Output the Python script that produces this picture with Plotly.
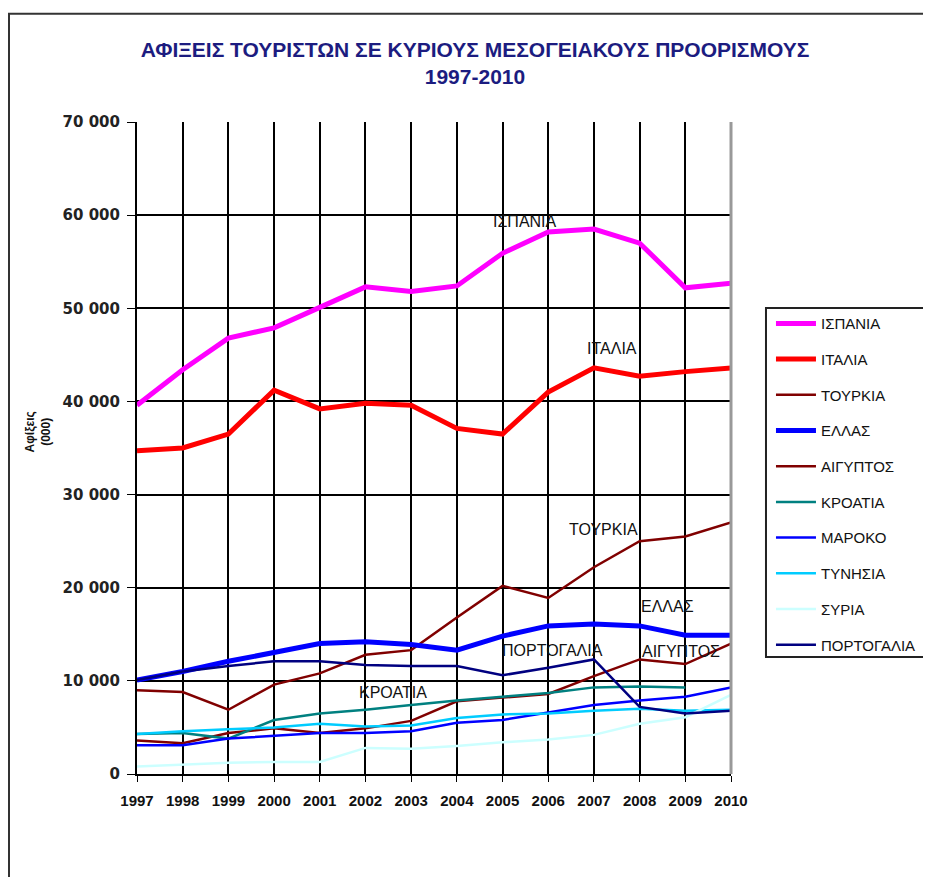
import plotly.graph_objects as go

years = list(range(1997, 2011))

spain    = [39600, 43400, 46800, 47900, 50100, 52300, 51800, 52400, 55900, 58200, 58500, 57000, 52200, 52700]
italy    = [34700, 35000, 36500, 41200, 39200, 39800, 39600, 37100, 36500, 41000, 43600, 42700, 43200, 43600]
turkey   = [9000, 8800, 6900, 9600, 10800, 12800, 13300, 16800, 20200, 18900, 22200, 25000, 25500, 27000]
greece   = [10100, 11000, 12100, 13000, 14000, 14200, 13900, 13300, 14800, 15900, 16100, 15900, 14900, 14900]
egypt    = [3600, 3300, 4400, 4900, 4400, 4900, 5700, 7800, 8200, 8600, 10500, 12300, 11800, 14000]
croatia  = [4300, 4400, 3800, 5800, 6500, 6900, 7400, 7900, 8300, 8700, 9300, 9400, 9300, None]
morocco  = [3100, 3100, 3800, 4100, 4400, 4400, 4600, 5500, 5800, 6600, 7400, 7900, 8300, 9300]
tunisia  = [4300, 4600, 4800, 5000, 5400, 5100, 5200, 6000, 6400, 6500, 6800, 7000, 6800, 6900]
syria    = [800, 1000, 1200, 1300, 1300, 2800, 2700, 3000, 3400, 3700, 4200, 5400, 6100, 8500]
portugal = [10100, 11000, 11600, 12100, 12100, 11700, 11600, 11600, 10600, 11400, 12300, 7200, 6500, 6800]

names = ["ΙΣΠΑΝΙΑ", "ΙΤΑΛΙΑ", "ΤΟΥΡΚΙΑ", "ΕΛΛΑΣ", "ΑΙΓΥΠΤΟΣ", "ΚΡΟΑΤΙΑ",
         "ΜΑΡΟΚΟ", "ΤΥΝΗΣΙΑ", "ΣΥΡΙΑ", "ΠΟΡΤΟΓΑΛΙΑ"]
series = [spain, italy, turkey, greece, egypt, croatia, morocco, tunisia, syria, portugal]
colors = ["#FF00FF", "#FF0000", "#800000", "#0000FF", "#800000", "#008080",
          "#0000FF", "#00CCFF", "#CCFFFF", "#000080"]
widths = [5, 5, 2.5, 5, 2.5, 2.5, 2.5, 2.5, 2.5, 2.5]

label_text = ["ΙΣΠΑΝΙΑ", "ΙΤΑΛΙΑ", "ΤΟΥΡΚΙΑ", "ΕΛΛΑΣ", "ΑΙΓΥΠΤΟΣ", "ΠΟΡΤΟΓΑΛΙΑ", "ΚΡΟΑΤΙΑ"]
label_x = [2005.5, 2007.4, 2007.2, 2008.6, 2008.9, 2006.1, 2002.6]
label_y = [59300, 45700, 26200, 18000, 13100, 13300, 8700]

ytick_vals = [0, 10000, 20000, 30000, 40000, 50000, 60000, 70000]
ytick_text = ["0", "10 000", "20 000", "30 000", "40 000", "50 000", "60 000", "70 000"]

FONT = "Liberation Sans, Arial, sans-serif"
YFONT = "DejaVu Sans, Verdana, sans-serif"

fig = go.Figure()
for i in range(len(names)):
    fig.add_trace(go.Scatter(
        x=years, y=series[i], name=names[i], mode="lines",
        line=dict(color=colors[i], width=widths[i]),
        legendgroup=names[i], legendrank=i + 1,
    ))

for t, x, y in zip(label_text, label_x, label_y):
    fig.add_annotation(x=x, y=y, text=t, showarrow=False, xref="x", yref="y",
                       font=dict(family=FONT, size=16, color="#111111"))

fig.add_annotation(xref="paper", yref="paper", x=-0.166, y=0.5245,
                   xanchor="center", yanchor="middle",
                   text="<b>Αφίξεις<br>(000)</b>",
                   showarrow=False, textangle=-90,
                   font=dict(family=FONT, size=12, color="#111111"))

# outer frame
fig.add_shape(type="rect", xref="paper", yref="paper",
              x0=-0.2155, y0=-0.2, x1=1.45, y1=1.166,
              line=dict(color="#333333", width=2), layer="below")
# legend box (runs off the right edge)
fig.add_shape(type="rect", xref="paper", yref="paper",
              x0=1.0589, y0=0.1794, x1=1.45, y1=0.7147,
              line=dict(color="#222222", width=2), layer="below")

fig.update_layout(
    width=931, height=877,
    margin=dict(l=129, r=208, t=114, b=111, autoexpand=False),
    paper_bgcolor="white", plot_bgcolor="white",
    title=dict(text="<b>ΑΦΙΞΕΙΣ ΤΟΥΡΙΣΤΩΝ ΣΕ ΚΥΡΙΟΥΣ ΜΕΣΟΓΕΙΑΚΟΥΣ ΠΡΟΟΡΙΣΜΟΥΣ<br>1997-2010</b>",
               x=0.5016, xref="container", xanchor="center", y=0.944, yanchor="middle",
               font=dict(family=FONT, size=21, color="#1C1C80")),
    font=dict(family=FONT, size=14, color="#111111"),
    showlegend=True,
    legend=dict(x=1.0673, y=0.716, xanchor="left", yanchor="top",
                borderwidth=0, bgcolor="rgba(0,0,0,0)", itemwidth=40,
                tracegroupgap=13.2, font=dict(family=FONT, size=15, color="#111111")),
    xaxis=dict(range=[1997, 2010], tickmode="array", tickvals=years,
               ticktext=[f"<b>{y}</b>" for y in years],
               showgrid=True, gridcolor="#000000", gridwidth=1.8,
               ticks="outside", ticklen=6, tickcolor="#000000",
               ticklabelstandoff=6,
               showline=True, linecolor="#000000", linewidth=2,
               tickfont=dict(family=FONT, size=15, color="#111111"), zeroline=False),
    yaxis=dict(range=[0, 70000], tickmode="array",
               tickvals=ytick_vals,
               ticktext=[f"<b>{t}</b>" for t in ytick_text],
               showgrid=True, gridcolor="#000000", gridwidth=1.8,
               ticks="outside", ticklen=8, tickcolor="#000000",
               ticklabelstandoff=4,
               showline=True, linecolor="#000000", linewidth=2,
               tickfont=dict(family=YFONT, size=15, color="#222222"), zeroline=False),
)
fig.add_shape(type="line", xref="paper", yref="paper", x0=1, x1=1, y0=0, y1=1,
              line=dict(color="#999999", width=3))

fig.write_html("out.html")
